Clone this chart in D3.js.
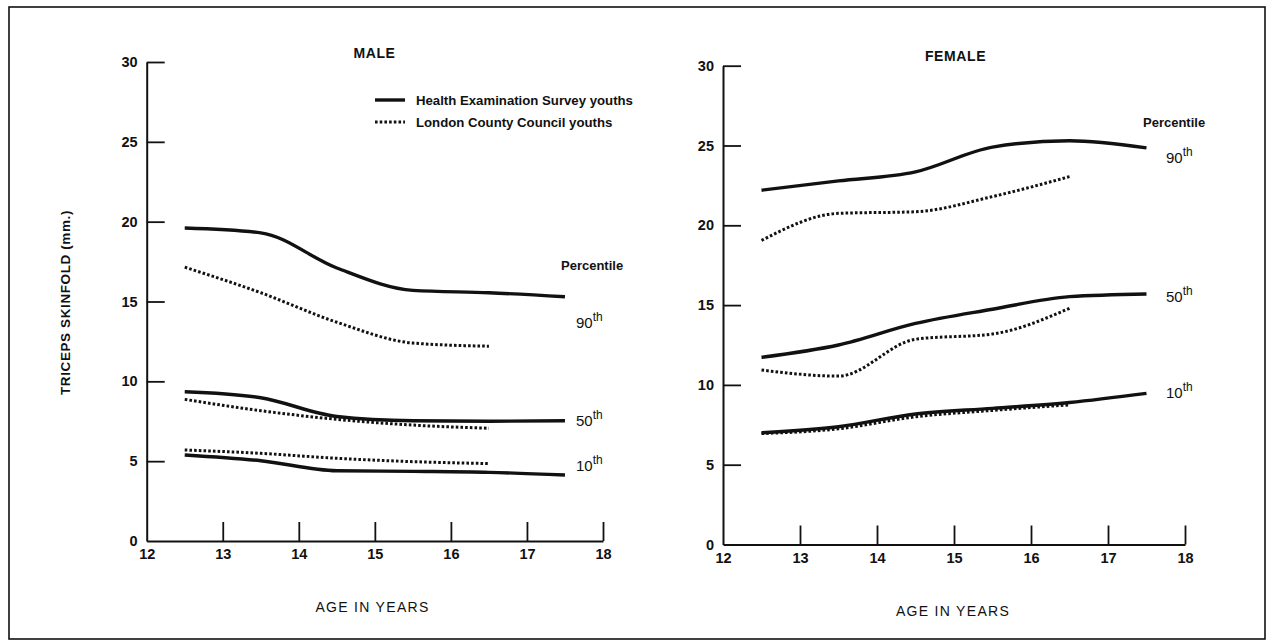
<!DOCTYPE html>
<html>
<head>
<meta charset="utf-8">
<script src="https://cdn.jsdelivr.net/npm/d3@7"></script>
<style>
  html, body { margin: 0; padding: 0; background: #fff; }
  svg { display: block; font-family: "Liberation Sans", Arial, Helvetica, sans-serif; }
</style>
</head>
<body>
<svg id="chart" width="1270" height="643"></svg>
<script>
// ---------- data ----------
const hesAges = [12.5, 13.5, 14.5, 15.5, 16.5, 17.5];
const lccAges = [12.5, 13.5, 14.5, 15.5, 16.5];

const maleHes90 = [19.6, 19.3, 17.1, 15.7, 15.55, 15.3];
const maleHes50 = [9.35, 8.97, 7.8, 7.53, 7.5, 7.53];
const maleHes10 = [5.39, 5.03, 4.4, 4.36, 4.3, 4.13];
const maleLcc90 = [17.15, 15.55, 13.7, 12.4, 12.2];
const maleLcc50 = [8.87, 8.16, 7.62, 7.26, 7.06];
const maleLcc10 = [5.7, 5.49, 5.18, 4.97, 4.85];

const femaleHes90 = [22.2, 22.78, 23.35, 24.9, 25.3, 24.85];
const femaleHes50 = [11.73, 12.5, 13.85, 14.74, 15.53, 15.7];
const femaleHes10 = [7.0, 7.38, 8.18, 8.53, 8.9, 9.47];
const femaleLcc90 = [19.05, 20.75, 20.85, 21.8, 23.05];
const femaleLcc50 = [10.93, 10.55, 12.86, 13.19, 14.8];
const femaleLcc10 = [6.95, 7.25, 8.0, 8.4, 8.75];

const xTicks = [12, 13, 14, 15, 16, 17, 18];
const yTicks = [0, 5, 10, 15, 20, 25, 30];
const panelTitles = ["MALE", "FEMALE"];
const legendLabels = ["Health Examination Survey youths", "London County Council youths"];
const percentileLabels = ["90", "50", "10"];
const yTitle = "TRICEPS SKINFOLD (mm.)";
const xTitle = "AGE IN YEARS";

// ---------- drawing ----------
const svg = d3.select("#chart");

svg.append("rect")
  .attr("x", 9).attr("y", 7).attr("width", 1256).attr("height", 632)
  .attr("fill", "none").attr("stroke", "#111").attr("stroke-width", 1.6);

const panels = [
  {
    title: panelTitles[0], xr: [146.7, 603], yr: [541, 62],
    hes: [maleHes90, maleHes50, maleHes10], lcc: [maleLcc90, maleLcc50, maleLcc10],
    titlePos: [374.5, 58], xTitlePos: [372.5, 612],
    pctTitle: [561, 270], pctLabels: [[576, 328], [576, 426], [576, 471]],
    legend: true, yTitle: true
  },
  {
    title: panelTitles[1], xr: [723, 1185], yr: [544.5, 65.7],
    hes: [femaleHes90, femaleHes50, femaleHes10], lcc: [femaleLcc90, femaleLcc50, femaleLcc10],
    titlePos: [955.5, 61], xTitlePos: [953, 616],
    pctTitle: [1143, 127], pctLabels: [[1166, 163], [1166, 302], [1166, 398]],
    legend: false, yTitle: false
  }
];

const dotDash = "2.6,2.1";
const fmt = d3.format("d");

panels.forEach(p => {
  const x = d3.scaleLinear().domain([12, 18]).range(p.xr);
  const y = d3.scaleLinear().domain([0, 30]).range(p.yr);
  const g = svg.append("g");

  // y axis
  const ya = g.append("g")
    .attr("transform", `translate(${p.xr[0]},0)`)
    .call(d3.axisLeft(y).tickValues(yTicks).tickFormat(fmt).tickSize(-18).tickSizeOuter(0).tickPadding(9));
  // x axis
  const xa = g.append("g")
    .attr("transform", `translate(0,${p.yr[0]})`)
    .call(d3.axisBottom(x).tickValues(xTicks).tickFormat(fmt).tickSize(-19).tickSizeOuter(0).tickPadding(8));

  [ya, xa].forEach(a => {
    a.select(".domain").attr("stroke", "#111").attr("stroke-width", 2);
    a.selectAll(".tick line").attr("stroke", "#111").attr("stroke-width", 1.8);
    a.selectAll(".tick text")
      .attr("fill", "#111")
      .attr("font-size", 14.5)
      .attr("font-weight", "bold")
      .style("font-size", "14.5px")
      .style("font-weight", "bold");
  });
  ya.selectAll(".tick").filter(d => d === 0).select("line").remove();
  xa.selectAll(".tick").filter(d => d === 12).select("line").remove();

  // lines
  const line = (ages) => d3.line()
    .x((d, i) => x(ages[i]))
    .y(d => y(d))
    .curve(d3.curveMonotoneX);

  p.hes.forEach(s => {
    g.append("path").datum(s)
      .attr("d", line(hesAges))
      .attr("fill", "none").attr("stroke", "#111")
      .attr("stroke-width", 3.4).attr("stroke-linejoin", "round");
  });
  p.lcc.forEach(s => {
    g.append("path").datum(s)
      .attr("d", line(lccAges))
      .attr("fill", "none").attr("stroke", "#111")
      .attr("stroke-width", 3).attr("stroke-dasharray", dotDash);
  });

  // panel title
  g.append("text").text(p.title)
    .attr("x", p.titlePos[0]).attr("y", p.titlePos[1])
    .attr("text-anchor", "middle")
    .style("font-size", "14px").style("font-weight", "bold")
    .style("letter-spacing", "0.6px").attr("fill", "#111");

  // x axis title
  g.append("text").text(xTitle)
    .attr("x", p.xTitlePos[0]).attr("y", p.xTitlePos[1])
    .attr("text-anchor", "middle")
    .style("font-size", "14px").style("letter-spacing", "1.3px").attr("fill", "#111");

  // percentile
  g.append("text").text("Percentile")
    .attr("x", p.pctTitle[0]).attr("y", p.pctTitle[1])
    .style("font-size", "13px").style("font-weight", "bold").attr("fill", "#111");

  p.pctLabels.forEach((pos, i) => {
    const t = g.append("text").attr("x", pos[0]).attr("y", pos[1]).attr("fill", "#111")
      .style("font-size", "15px");
    t.append("tspan").text(percentileLabels[i]);
    t.append("tspan").text("th").attr("dy", -7).style("font-size", "12px");
  });

  if (p.yTitle) {
    g.append("text").text(yTitle)
      .attr("transform", "translate(70,302.5) rotate(-90)")
      .attr("text-anchor", "middle")
      .style("font-size", "13.5px").style("font-weight", "bold")
      .style("letter-spacing", "0.6px").attr("fill", "#111");
  }

  if (p.legend) {
    const lg = g.append("g");
    [0, 1].forEach(i => {
      const yy = 100 + i * 22;
      lg.append("line")
        .attr("x1", 375).attr("x2", 405).attr("y1", yy).attr("y2", yy)
        .attr("stroke", "#111")
        .attr("stroke-width", i === 0 ? 3.4 : 3)
        .attr("stroke-dasharray", i === 0 ? null : dotDash);
      lg.append("text").text(legendLabels[i])
        .attr("x", 416).attr("y", yy + 5)
        .style("font-size", "13.2px").style("font-weight", "bold")
        .attr("fill", "#111");
    });
  }
});
</script>
</body>
</html>
